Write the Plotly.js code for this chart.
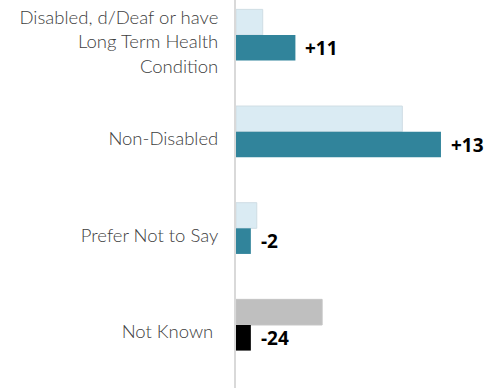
<!DOCTYPE html>
<html>
<head>
<meta charset="utf-8">
<script src="https://cdn.plot.ly/plotly-3.0.1.min.js"></script>
<style>html,body{margin:0;padding:0;background:#fff;}#chart{width:487px;height:388px;}</style>
</head>
<body>
<div id="chart"></div>
<script>
const categories = ['Disabled, d/Deaf or have<br>Long Term Health<br>Condition', 'Non-Disabled', 'Prefer Not to Say', 'Not Known\u00a0'];
const earlierValues = [9, 56, 7, 29];
const laterValues = [20, 69, 5, 5];
const diffLabels = ['+11', '+13', '-2', '-24'];
const earlierColors = ['#DAEBF3', '#DAEBF3', '#DAEBF3', '#BFBFBF'];
const laterColors = ['#31849B', '#31849B', '#31849B', '#000000'];

const traces = [
  {type: 'bar', orientation: 'h', y: categories, x: earlierValues,
   marker: {color: earlierColors, line: {width: 1, color: ['#cfdde4','#cfdde4','#cfdde4','#c4c4c4']}},
   hoverinfo: 'none', showlegend: false},
  {type: 'bar', orientation: 'h', y: categories, x: laterValues,
   marker: {color: laterColors, line: {width: 0}},
   hoverinfo: 'none', showlegend: false}
];

const annotations = categories.map((c, i) => ({
  x: laterValues[i], y: c, xref: 'x', yref: 'y',
  text: diffLabels[i], showarrow: false, xanchor: 'left', yanchor: 'middle',
  xshift: 8, yshift: -13,
  font: {family: 'Open Sans, sans-serif', size: 19, weight: 700, color: '#000'}
}));

const layout = {
  width: 487, height: 388,
  margin: {l: 236, r: 0, t: 0, b: 0, pad: 0},
  paper_bgcolor: '#fff', plot_bgcolor: '#fff',
  barmode: 'group', bargap: 0.47, bargroupgap: 0,
  xaxis: {range: [0, 84.5], showgrid: false, zeroline: false, showticklabels: false, showline: false, fixedrange: true},
  yaxis: {type: 'category', range: [3.652, -0.362], showgrid: false, zeroline: false,
          showline: true, linecolor: '#d9d9d9', linewidth: 2, ticks: '', ticklabelstandoff: 12, ticklabelshift: -7,
          tickfont: {family: 'Lato, sans-serif', size: 18.5, weight: 300, color: '#404040'}},
  annotations: annotations
};

Plotly.newPlot('chart', traces, layout, {displayModeBar: false, staticPlot: true});
</script>
</body>
</html>
